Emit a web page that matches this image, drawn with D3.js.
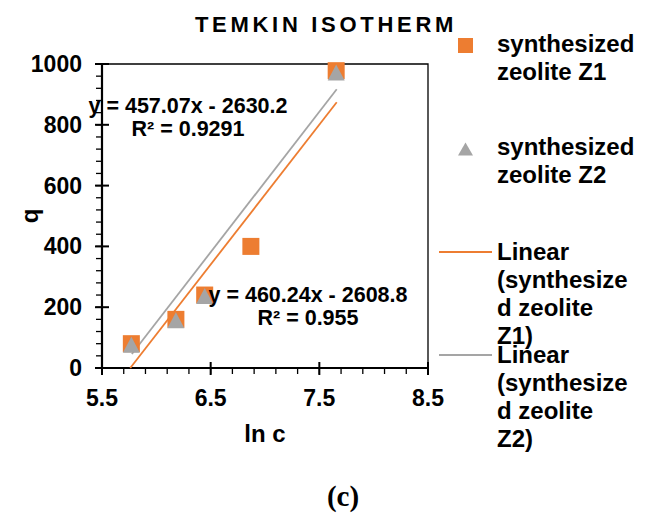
<!DOCTYPE html>
<meta charset="utf-8">
<style>
    body { margin: 0; background: #fff; }
    text { font-family: "Liberation Sans", Arial, sans-serif; font-weight: bold; fill: #000; }
</style>
<body>
<script src="https://cdn.jsdelivr.net/npm/d3@7"></script>
<script>

    // data
    var lnC1 = [5.77, 6.18, 6.445, 6.87, 7.655],
        q1 = [80, 160, 240, 400, 978];
    var lnC2 = [5.77, 6.18, 6.445, 7.655],
        q2 = [80, 160, 240, 975];
    // trendline end points (as drawn)
    var trend1 = [[5.76, 0], [7.66, 874]],
        trend2 = [[5.775, 46], [7.66, 917]];
    var xTicks = [5.5, 6.5, 7.5, 8.5],
        yTicks = [0, 200, 400, 600, 800, 1000];
    var eq1 = ["y = 457.07x - 2630.2", "R\u00b2 = 0.9291"],
        eq2 = ["y = 460.24x - 2608.8", "R\u00b2 = 0.955"];
    var legendItems = [
        {type: "square", lines: ["synthesized", "zeolite Z1"]},
        {type: "triangle", lines: ["synthesized", "zeolite Z2"]},
        {type: "line1", lines: ["Linear", "(synthesize", "d zeolite", "Z1)"]},
        {type: "line2", lines: ["Linear", "(synthesize", "d zeolite", "Z2)"]}
    ];

    var orange = "#ed7d31", grey = "#a5a5a5";

    var width = 650, height = 516;
    var pL = 102, pR = 428, pT = 64, pB = 368;

    var svg = d3.select("body").append("svg")
            .attr("width", width)
            .attr("height", height);

    var x = d3.scaleLinear().domain([5.5, 8.5]).range([pL, pR]),
        y = d3.scaleLinear().domain([0, 1000]).range([pB, pT]);

    // plot border (top / right)
    svg.append("path")
            .attr("d", "M" + pL + "," + pT + "H" + pR + "V" + pB)
            .attr("fill", "none")
            .attr("stroke", "#000")
            .attr("stroke-width", 1.3);

    // minor ticks
    var g = svg.append("g");
    g.selectAll(".mx")
            .data(d3.range(5.5, 8.51, 0.2))
            .enter().append("line")
            .attr("x1", function(d) { return x(d); })
            .attr("x2", function(d) { return x(d); })
            .attr("y1", pB).attr("y2", pB + 6)
            .attr("stroke", "#000").attr("stroke-width", 1.3);
    g.selectAll(".my")
            .data(d3.range(0, 1001, 40))
            .enter().append("line")
            .attr("y1", function(d) { return y(d); })
            .attr("y2", function(d) { return y(d); })
            .attr("x1", pL - 6).attr("x2", pL)
            .attr("stroke", "#000").attr("stroke-width", 1.3);

    // major ticks crossing the axis
    g.selectAll(".tx")
            .data(xTicks)
            .enter().append("line")
            .attr("x1", function(d) { return x(d); })
            .attr("x2", function(d) { return x(d); })
            .attr("y1", pB - 6).attr("y2", pB + 7)
            .attr("stroke", "#000").attr("stroke-width", 2);
    g.selectAll(".ty")
            .data(yTicks)
            .enter().append("line")
            .attr("y1", function(d) { return y(d); })
            .attr("y2", function(d) { return y(d); })
            .attr("x1", pL - 7).attr("x2", pL + 7)
            .attr("stroke", "#000").attr("stroke-width", 2);

    // axes lines
    svg.append("line").attr("x1", pL).attr("x2", pR).attr("y1", pB).attr("y2", pB)
            .attr("stroke", "#000").attr("stroke-width", 2.2);
    svg.append("line").attr("x1", pL).attr("x2", pL).attr("y1", pT).attr("y2", pB)
            .attr("stroke", "#000").attr("stroke-width", 2.2);

    // tick labels
    svg.selectAll(".xl")
            .data(xTicks)
            .enter().append("text")
            .attr("x", function(d) { return x(d); })
            .attr("y", 406)
            .attr("text-anchor", "middle")
            .style("font-size", "23px")
            .text(function(d) { return d3.format(".1f")(d); });
    svg.selectAll(".yl")
            .data(yTicks)
            .enter().append("text")
            .attr("x", 82)
            .attr("y", function(d) { return y(d) + 8; })
            .attr("text-anchor", "end")
            .style("font-size", "23px")
            .text(function(d) { return d; });

    // axis titles
    svg.append("text")
            .attr("x", (pL + pR) / 2).attr("y", 442)
            .attr("text-anchor", "middle")
            .style("font-size", "24px")
            .text("ln c");
    svg.append("text")
            .attr("transform", "translate(38," + (pT + pB) / 2 + ")rotate(-90)")
            .attr("text-anchor", "middle")
            .style("font-size", "24px")
            .text("q");

    // title
    svg.append("text")
            .attr("x", 326).attr("y", 32)
            .attr("text-anchor", "middle")
            .style("font-size", "22px")
            .style("letter-spacing", "3.7px")
            .text("TEMKIN ISOTHERM");

    // trend lines
    var line = d3.line().x(function(d) { return x(d[0]); }).y(function(d) { return y(d[1]); });
    svg.append("path").attr("d", line(trend1)).attr("fill", "none")
            .attr("stroke", orange).attr("stroke-width", 1.8);
    svg.append("path").attr("d", line(trend2)).attr("fill", "none")
            .attr("stroke", grey).attr("stroke-width", 1.8);

    // points
    var sq = 17;
    svg.selectAll(".p1")
            .data(lnC1)
            .enter().append("rect")
            .attr("x", function(d) { return x(d) - sq / 2; })
            .attr("y", function(d, i) { return y(q1[i]) - sq / 2; })
            .attr("width", sq).attr("height", sq)
            .attr("fill", orange);

    function tri(cx, cy, w, h) {
        return "M" + (cx - w / 2) + "," + (cy + h / 2) + "L" + cx + "," + (cy - h / 2) + "L" + (cx + w / 2) + "," + (cy + h / 2) + "Z";
    }
    svg.selectAll(".p2")
            .data(lnC2)
            .enter().append("path")
            .attr("d", function(d, i) { return tri(x(d), y(q2[i]) + 1, 17, 16); })
            .attr("fill", grey);

    // equations
    function eqLabel(lines, cx, y0) {
        svg.selectAll(null)
                .data(lines)
                .enter().append("text")
                .attr("x", cx)
                .attr("y", function(d, i) { return y0 + i * 23; })
                .attr("text-anchor", "middle")
                .style("font-size", "21.5px")
                .text(function(d) { return d; });
    }
    eqLabel(eq1, 188, 113);
    eqLabel(eq2, 308, 302);

    // legend
    var lg = svg.append("g");
    var legY = [52, 155, 260, 363];
    legendItems.forEach(function(item, k) {
        var by = legY[k];
        if (item.type === "square") {
            lg.append("rect").attr("x", 458).attr("y", by - 14).attr("width", 15).attr("height", 15).attr("fill", orange);
        } else if (item.type === "triangle") {
            lg.append("path").attr("d", tri(465.5, by - 6, 15, 13)).attr("fill", grey);
        } else {
            lg.append("line").attr("x1", 439).attr("x2", 492).attr("y1", by - 8).attr("y2", by - 8)
                    .attr("stroke", item.type === "line1" ? orange : grey).attr("stroke-width", 2);
        }
        lg.selectAll(null)
                .data(item.lines)
                .enter().append("text")
                .attr("x", 497)
                .attr("y", function(d, i) { return by + i * 28; })
                .style("font-size", "24px")
                .text(function(d) { return d; });
    });

    // panel label
    svg.append("text")
            .attr("x", 343).attr("y", 506)
            .attr("text-anchor", "middle")
            .style("font-family", "'Liberation Serif', serif")
            .style("font-size", "29px")
            .text("(c)");
</script>
</body>
